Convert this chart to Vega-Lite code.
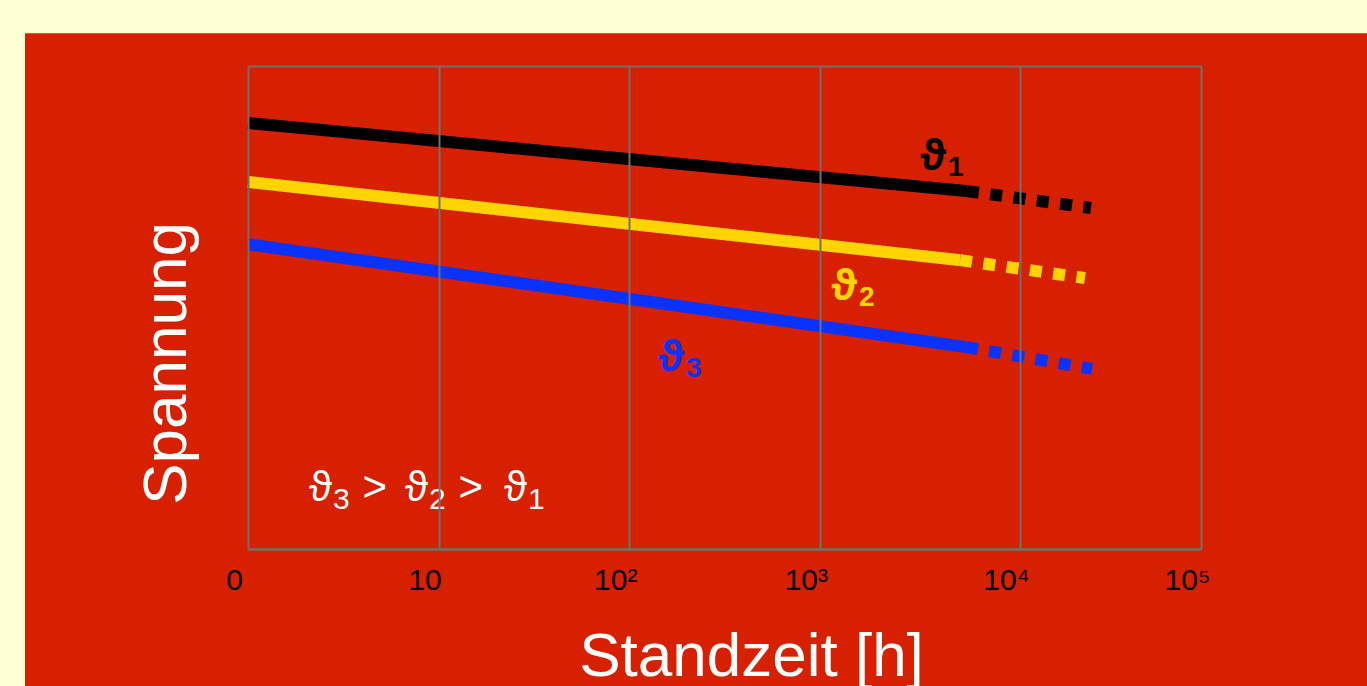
{
  "$schema": "https://vega.github.io/schema/vega-lite/v6.json",
  "width": 953,
  "height": 483,
  "autosize": {"type": "none"},
  "padding": {"left": 248, "top": 66, "right": 166, "bottom": 137},
  "background": "#FFFFD5",
  "config": {"view": {"stroke": null}},
  "datasets": {
    "lines": [
      {"series": "ϑ1", "style": "solid", "x": 0, "y": 88.2},
      {"series": "ϑ1", "style": "solid", "x": 3.772, "y": 74.1},
      {"series": "ϑ1", "style": "dashed", "x": 3.772, "y": 74.1},
      {"series": "ϑ1", "style": "dashed", "x": 4.423, "y": 70.6},
      {"series": "ϑ2", "style": "solid", "x": 0, "y": 76.0},
      {"series": "ϑ2", "style": "solid", "x": 3.736, "y": 59.8},
      {"series": "ϑ2", "style": "dashed", "x": 3.736, "y": 59.8},
      {"series": "ϑ2", "style": "dashed", "x": 4.391, "y": 56.1},
      {"series": "ϑ3", "style": "solid", "x": 0, "y": 63.1},
      {"series": "ϑ3", "style": "solid", "x": 3.767, "y": 41.8},
      {"series": "ϑ3", "style": "dashed", "x": 3.767, "y": 41.8},
      {"series": "ϑ3", "style": "dashed", "x": 4.428, "y": 37.3}
    ],
    "labels": [
      {"series": "ϑ1", "main": "ϑ", "sub": "1", "x": 3.662, "y": 78.5},
      {"series": "ϑ2", "main": "ϑ", "sub": "2", "x": 3.195, "y": 51.55},
      {"series": "ϑ3", "main": "ϑ", "sub": "3", "x": 2.287, "y": 36.85}
    ],
    "note": [
      {"main": "ϑ", "sub": "3", "x": 0.441, "y": 9.94},
      {"main": ">", "sub": "", "x": 0.729, "y": 9.94},
      {"main": "ϑ", "sub": "2", "x": 0.944, "y": 9.94},
      {"main": ">", "sub": "", "x": 1.233, "y": 9.94},
      {"main": "ϑ", "sub": "1", "x": 1.464, "y": 9.94}
    ]
  },
  "layer": [
    {
      "data": {"values": [{}]},
      "mark": {"type": "rect", "clip": false, "color": "#D72000"},
      "encoding": {
        "x": {"datum": -1.17, "type": "quantitative", "scale": {"domain": [0, 5], "nice": false, "zero": false}},
        "x2": {"datum": 6},
        "y": {"datum": 106.8, "type": "quantitative", "scale": {"domain": [0, 100], "nice": false, "zero": false}},
        "y2": {"datum": -30}
      }
    },
    {
      "data": {"name": "lines"},
      "mark": {"type": "line", "strokeWidth": 12, "strokeCap": "butt"},
      "encoding": {
        "x": {
          "field": "x", "type": "quantitative",
          "scale": {"domain": [0, 5], "nice": false, "zero": false},
          "axis": {
            "values": [0, 1, 2, 3, 4.05, 5],
            "labelExpr": "datum.value == 0 ? '0' : datum.value == 1 ? '10' : datum.value == 2 ? '10²' : datum.value == 3 ? '10³' : datum.value < 4.5 ? '10⁴' : '10⁵'",
            "grid": true, "gridColor": "#707070", "gridWidth": 2, "gridOpacity": 1,
            "domain": true, "domainColor": "#707070", "domainWidth": 2,
            "ticks": false,
            "labelFont": "Liberation Sans", "labelFontSize": 30, "labelColor": "#000000",
            "labelAlign": "center", "labelOffset": -14, "labelPadding": 16,
            "labelOverlap": false, "labelFlush": false, "labelBound": false,
            "title": "Standzeit [h]",
            "titleFont": "Liberation Sans", "titleFontSize": 62, "titleFontWeight": "normal", "titleColor": "#FFFFFF",
            "titleX": 503, "titleY": 126, "titleAlign": "center", "titleBaseline": "alphabetic", "titleAnchor": null,
            "zindex": 1
          }
        },
        "y": {
          "field": "y", "type": "quantitative",
          "scale": {"domain": [0, 100], "nice": false, "zero": false},
          "axis": {
            "values": [0, 100],
            "grid": true, "gridColor": "#707070", "gridWidth": 2, "gridOpacity": 1,
            "domain": false, "ticks": false, "labels": false,
            "title": "Spannung",
            "titleFont": "Liberation Sans", "titleFontSize": 62, "titleFontWeight": "normal", "titleColor": "#FFFFFF",
            "titleX": -63, "titleY": 297, "titleAngle": -90, "titleAlign": "center", "titleBaseline": "alphabetic", "titleAnchor": null,
            "zindex": 1
          }
        },
        "color": {
          "field": "series", "type": "nominal",
          "scale": {"domain": ["ϑ1", "ϑ2", "ϑ3"], "range": ["#000000", "#FFD400", "#0A32FF"]},
          "legend": null
        },
        "strokeDash": {
          "field": "style", "type": "nominal",
          "scale": {"domain": ["solid", "dashed"], "range": [[1, 0], [12, 11.5]]},
          "legend": null
        }
      }
    },
    {
      "data": {"name": "labels"},
      "mark": {"type": "text", "font": "Liberation Sans, DejaVu Sans", "fontSize": 44, "fontWeight": "bold", "align": "right", "baseline": "alphabetic"},
      "encoding": {
        "x": {"field": "x", "type": "quantitative", "scale": {"domain": [0, 5], "nice": false, "zero": false}},
        "y": {"field": "y", "type": "quantitative", "scale": {"domain": [0, 100], "nice": false, "zero": false}},
        "text": {"field": "main"},
        "color": {
          "field": "series", "type": "nominal",
          "scale": {"domain": ["ϑ1", "ϑ2", "ϑ3"], "range": ["#000000", "#FFD400", "#0A32FF"]},
          "legend": null
        }
      }
    },
    {
      "data": {"name": "labels"},
      "mark": {"type": "text", "font": "Liberation Sans", "fontSize": 28, "fontWeight": "bold", "align": "left", "baseline": "alphabetic", "dx": 2, "dy": 6},
      "encoding": {
        "x": {"field": "x", "type": "quantitative", "scale": {"domain": [0, 5], "nice": false, "zero": false}},
        "y": {"field": "y", "type": "quantitative", "scale": {"domain": [0, 100], "nice": false, "zero": false}},
        "text": {"field": "sub"},
        "color": {
          "field": "series", "type": "nominal",
          "scale": {"domain": ["ϑ1", "ϑ2", "ϑ3"], "range": ["#000000", "#FFD400", "#0A32FF"]},
          "legend": null
        }
      }
    },
    {
      "data": {"name": "note"},
      "mark": {"type": "text", "font": "Liberation Sans, DejaVu Sans", "fontSize": 42, "color": "#FFFFFF", "align": "right", "baseline": "alphabetic"},
      "encoding": {
        "x": {"field": "x", "type": "quantitative", "scale": {"domain": [0, 5], "nice": false, "zero": false}},
        "y": {"field": "y", "type": "quantitative", "scale": {"domain": [0, 100], "nice": false, "zero": false}},
        "text": {"field": "main"}
      }
    },
    {
      "data": {"name": "note"},
      "mark": {"type": "text", "font": "Liberation Sans", "fontSize": 30, "color": "#FFFFFF", "align": "left", "baseline": "alphabetic", "dx": 1, "dy": 8},
      "encoding": {
        "x": {"field": "x", "type": "quantitative", "scale": {"domain": [0, 5], "nice": false, "zero": false}},
        "y": {"field": "y", "type": "quantitative", "scale": {"domain": [0, 100], "nice": false, "zero": false}},
        "text": {"field": "sub"}
      }
    }
  ]
}
